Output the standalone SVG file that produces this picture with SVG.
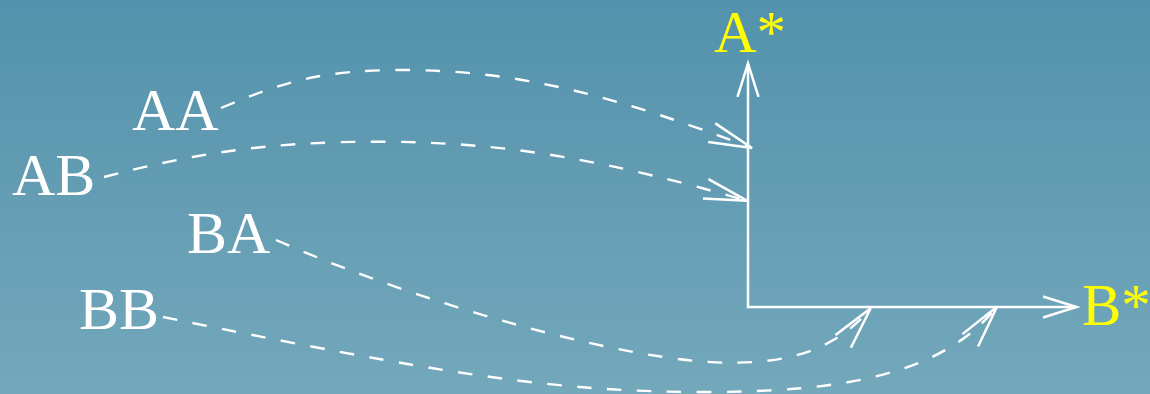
<svg xmlns="http://www.w3.org/2000/svg" width="1150" height="394" viewBox="0 0 1150 394">
  <defs>
    <linearGradient id="bg" x1="0" y1="0" x2="0" y2="1">
      <stop offset="0" stop-color="#5392ac"/>
      <stop offset="1" stop-color="#74a8bb"/>
    </linearGradient>
    <marker id="axisHead" markerUnits="userSpaceOnUse" viewBox="-36 -13 38 26" refX="0" refY="0" markerWidth="38" markerHeight="26" orient="auto-start-reverse" overflow="visible">
      <path d="M-33.4,-10.5 L0,0 L-33.4,10.5" fill="none" stroke="#ffffff" stroke-width="2.5" stroke-linecap="butt" stroke-linejoin="miter"/>
    </marker>
    <marker id="curveHead" markerUnits="userSpaceOnUse" viewBox="-46 -13 48 26" refX="0" refY="0" markerWidth="48" markerHeight="26" orient="auto" overflow="visible">
      <path d="M-43,-10 L0,0 L-43,10" fill="none" stroke="#ffffff" stroke-width="2.5" stroke-dasharray="none" stroke-linejoin="miter"/>
    </marker>
  </defs>
  <style>
    .lbl { font-family: "Liberation Serif", "Times New Roman", serif; font-size: 60px; fill: #ffffff; }
    .axlbl { font-family: "Liberation Serif", "Times New Roman", serif; font-size: 59px; fill: #ffff00; }
    .axis { fill: none; stroke: #ffffff; stroke-width: 2.5; }
    .flow { fill: none; stroke: #ffffff; stroke-width: 2.4; stroke-dasharray: 14.5 15.5; marker-end: url(#curveHead); }
  </style>
  <rect x="0" y="0" width="1150" height="394" fill="url(#bg)"/>

  <g id="connectors">
    <path id="axes" class="axis" d="M748,63.5 V307 H1076.5" marker-start="url(#axisHead)" marker-end="url(#axisHead)"/>
    <path id="AA-to-Astar" class="flow" d="M221,108 C286,80.7 323,70 403,70 C523,70 622,98.6 752,148"/>
    <path id="AB-to-Astar" class="flow" d="M104,177 C194,153.6 267,141.7 377,141.7 C507,141.7 607,160.4 747,200.7"/>
    <path id="BA-to-Bstar" class="flow" d="M276,240 C426,306 630,362.7 730,362.7 C780,362.7 832.3,354.5 870.7,308.3"/>
    <path id="BB-to-Bstar" class="flow" d="M163,317 C443,374 555,392 705,392 C835,392 941.2,376.9 997,306.7"/>
  </g>

  <g id="node-Astar"><text class="axlbl" x="714" y="52">A*</text></g>
  <g id="node-Bstar"><text class="axlbl" x="1082" y="325">B*</text></g>
  <g id="node-AA"><text class="lbl" x="132" y="130">AA</text></g>
  <g id="node-AB"><text class="lbl" x="12" y="195">AB</text></g>
  <g id="node-BA"><text class="lbl" x="187" y="253">BA</text></g>
  <g id="node-BB"><text class="lbl" x="79" y="329">BB</text></g>
</svg>
